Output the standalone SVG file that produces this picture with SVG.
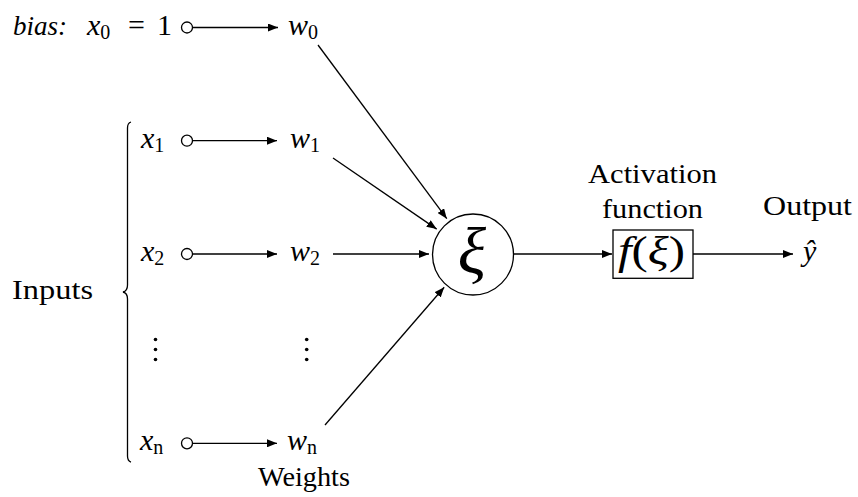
<svg xmlns="http://www.w3.org/2000/svg" width="858" height="497" viewBox="0 0 858 497">
<style>
text{fill:#000;font-size:27px}
.m{font-size:30px}
.it{font-style:italic}
.sub{font-size:20px;font-style:normal}
.ln{stroke:#000;stroke-width:1.3;fill:none}
.oc{stroke:#000;stroke-width:1.3;fill:#fff}
</style>
<defs>
<marker id="ah" viewBox="0 0 10 8" refX="10" refY="4" markerWidth="10" markerHeight="8" markerUnits="userSpaceOnUse" orient="auto">
<path d="M0,0 L10,4 L0,8 Z" fill="#000"/>
</marker>
</defs>
<g font-family="Liberation Serif, Times New Roman, DejaVu Serif, serif">
<g id="connectors">
<line class="ln" x1="193" y1="27.5" x2="278" y2="27.5" marker-end="url(#ah)"/>
<line class="ln" x1="193" y1="140.7" x2="277" y2="140.7" marker-end="url(#ah)"/>
<line class="ln" x1="193" y1="254" x2="277" y2="254" marker-end="url(#ah)"/>
<line class="ln" x1="193" y1="443.3" x2="277" y2="443.3" marker-end="url(#ah)"/>
<line class="ln" x1="318" y1="45" x2="446.8" y2="218.7" marker-end="url(#ah)"/>
<line class="ln" x1="333" y1="158" x2="436.7" y2="229.1" marker-end="url(#ah)"/>
<line class="ln" x1="333" y1="254" x2="429" y2="254" marker-end="url(#ah)"/>
<line class="ln" x1="325" y1="425" x2="444.2" y2="287.3" marker-end="url(#ah)"/>
<line class="ln" x1="513" y1="254" x2="612" y2="254" marker-end="url(#ah)"/>
<line class="ln" x1="693" y1="254" x2="793" y2="254" marker-end="url(#ah)"/>
</g>
<g id="bias">
<text x="13" y="34.5" class="it" textLength="54" lengthAdjust="spacingAndGlyphs">bias:</text>
<text x="87" y="34.5" class="m"><tspan class="it">x</tspan><tspan class="sub" dy="4">0</tspan></text>
<text x="128" y="34.5" class="m">=</text>
<text x="157" y="34.5" class="m">1</text>
<circle class="oc" cx="187" cy="27.5" r="5.5"/>
</g>
<g id="x1">
<text x="141" y="147.5" class="m"><tspan class="it">x</tspan><tspan class="sub" dy="4">1</tspan></text>
<circle class="oc" cx="187" cy="140.7" r="5.5"/>
</g>
<g id="x2">
<text x="141" y="261" class="m"><tspan class="it">x</tspan><tspan class="sub" dy="4">2</tspan></text>
<circle class="oc" cx="187" cy="254" r="5.5"/>
</g>
<g id="xn">
<text x="140" y="450.3" class="m"><tspan class="it">x</tspan><tspan class="sub it" dy="4">n</tspan></text>
<circle class="oc" cx="187" cy="443.3" r="5.5"/>
</g>
<g id="w0"><text x="288" y="34.5" class="m"><tspan class="it">w</tspan><tspan class="sub" dy="4">0</tspan></text></g>
<g id="w1"><text x="290" y="147.5" class="m"><tspan class="it">w</tspan><tspan class="sub" dy="4">1</tspan></text></g>
<g id="w2"><text x="290" y="261" class="m"><tspan class="it">w</tspan><tspan class="sub" dy="4">2</tspan></text></g>
<g id="wn"><text x="287" y="450.3" class="m"><tspan class="it">w</tspan><tspan class="sub it" dy="4">n</tspan></text></g>
<g id="dots">
<circle cx="155.5" cy="339.5" r="1.8"/><circle cx="155.5" cy="349.5" r="1.8"/><circle cx="155.5" cy="359.5" r="1.8"/>
<circle cx="306.7" cy="339.5" r="1.8"/><circle cx="306.7" cy="349.5" r="1.8"/><circle cx="306.7" cy="359.5" r="1.8"/>
</g>
<g id="inputs">
<path class="ln" d="M131,122 Q127.5,123 127.5,128 L127.5,285 Q127.5,291 123,292 Q127.5,293 127.5,299 L127.5,456 Q127.5,461 131,462"/>
<text x="12" y="299.3" textLength="81" lengthAdjust="spacingAndGlyphs">Inputs</text>
</g>
<g id="weights"><text x="258" y="486" textLength="92" lengthAdjust="spacingAndGlyphs">Weights</text></g>
<g id="sum">
<circle class="oc" cx="473" cy="254.5" r="40.5"/>
<text x="472" y="273" class="it" text-anchor="middle" style="font-size:66px">ξ</text>
</g>
<g id="activation">
<text x="588" y="183.3" textLength="129" lengthAdjust="spacingAndGlyphs">Activation</text>
<text x="602" y="218.3" textLength="101" lengthAdjust="spacingAndGlyphs">function</text>
<rect class="oc" x="613" y="230" width="80" height="48.3"/>
<text x="618" y="264" textLength="67" lengthAdjust="spacingAndGlyphs" style="font-size:40px"><tspan class="it">f</tspan>(<tspan class="it">ξ</tspan>)</text>
</g>
<g id="output">
<text x="763" y="215" textLength="89" lengthAdjust="spacingAndGlyphs">Output</text>
<text x="803" y="261" class="it m">ŷ</text>
</g>
</g>
</svg>
